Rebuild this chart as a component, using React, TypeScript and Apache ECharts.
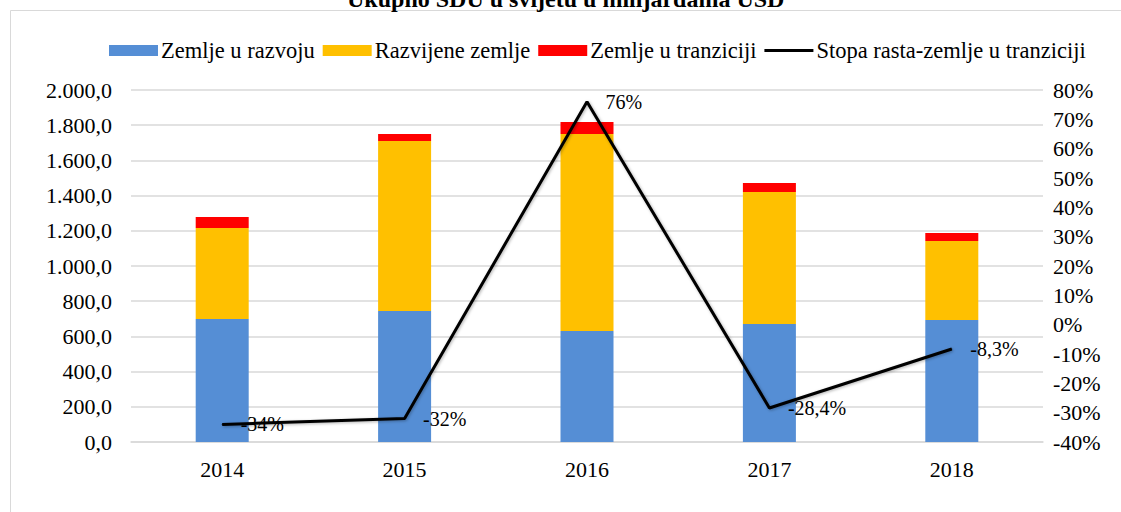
import React, { useEffect, useRef } from "react";
import * as echarts from "echarts";

const years = ["2014", "2015", "2016", "2017", "2018"];
const developing = [699, 744, 631, 670, 693];
const developed = [517, 966, 1119, 750, 449];
const transition = [62, 40, 68, 52, 46];
const growthTransition = [-34, -32, 76, -28.4, -8.3];

const FONT = "Liberation Serif";

function fmtLeft(v: number): string {
  const s = v.toFixed(1).replace(".", ",");
  const [intPart, dec] = s.split(",");
  return intPart.replace(/\B(?=(\d{3})+(?!\d))/g, ".") + "," + dec;
}

export default function App() {
  const ref = useRef<HTMLDivElement>(null);
  useEffect(() => {
    if (!ref.current) return;
    const chart = echarts.init(ref.current, undefined, { renderer: "svg" });
    chart.setOption({
      animation: false,
      backgroundColor: "#ffffff",
      textStyle: { fontFamily: FONT, color: "#000" },
      title: {
        text: "Ukupno SDU u svijetu u milijardama USD",
        left: 342,
        top: -18,
        textStyle: { fontFamily: FONT, fontSize: 24, fontWeight: "bold", color: "#000" },
      },
      graphic: [
        {
          type: "rect",
          z: -10,
          silent: true,
          shape: { x: 10.5, y: 10.5, width: 1200, height: 600 },
          style: { fill: "none", stroke: "#d9d9d9", lineWidth: 1 },
        },
      ],
      legend: {
        left: 104,
        top: 34,
        itemWidth: 49,
        itemHeight: 11,
        itemGap: 8,
        symbolKeepAspect: true,
        textStyle: { fontFamily: FONT, fontSize: 22.5, color: "#000", padding: [0, 0, 0, -2] },
        data: [
          { name: "Zemlje u razvoju", icon: "rect" },
          { name: "Razvijene zemlje", icon: "rect" },
          { name: "Zemlje u tranziciji", icon: "rect" },
          { name: "Stopa rasta-zemlje u tranziciji", icon: "path://M0,0 L49,0 L49,3 L0,3 Z", itemStyle: { color: "#000" } },
        ],
      },
      grid: { left: 131, right: 78, top: 90, bottom: 70, containLabel: false },
      xAxis: {
        type: "category",
        data: years,
        axisTick: { show: false },
        axisLine: { lineStyle: { color: "#d9d9d9", width: 1.5 } },
        axisLabel: { fontFamily: FONT, fontSize: 22, color: "#000", margin: 16 },
      },
      yAxis: [
        {
          type: "value",
          min: 0,
          max: 2000,
          interval: 200,
          axisLine: { show: false },
          axisTick: { show: false },
          splitLine: { lineStyle: { color: "#d9d9d9", width: 1.5 } },
          axisLabel: { fontFamily: FONT, fontSize: 22, color: "#000", margin: 19, formatter: (v: number) => fmtLeft(v) },
        },
        {
          type: "value",
          min: -40,
          max: 80,
          interval: 10,
          axisLine: { show: false },
          axisTick: { show: false },
          splitLine: { show: false },
          axisLabel: { fontFamily: FONT, fontSize: 22, color: "#000", margin: 10, formatter: (v: number) => v + "%" },
        },
      ],
      series: [
        {
          name: "Zemlje u razvoju",
          type: "bar",
          stack: "total",
          barWidth: 53,
          data: developing,
          itemStyle: { color: "#558ED5" },
        },
        {
          name: "Razvijene zemlje",
          type: "bar",
          stack: "total",
          barWidth: 53,
          data: developed,
          itemStyle: { color: "#FFC000" },
        },
        {
          name: "Zemlje u tranziciji",
          type: "bar",
          stack: "total",
          barWidth: 53,
          data: transition,
          itemStyle: { color: "#FF0000" },
        },
        {
          name: "Stopa rasta-zemlje u tranziciji",
          type: "line",
          yAxisIndex: 1,
          data: growthTransition,
          symbol: "circle",
          symbolSize: 1,
          showSymbol: true,
          z: 5,
          lineStyle: { color: "#000", width: 3, shadowColor: "rgba(0,0,0,0.3)", shadowBlur: 3, shadowOffsetX: 1, shadowOffsetY: 1 },
          itemStyle: { color: "#000" },
          label: {
            show: true,
            position: "right",
            distance: 18,
            fontFamily: FONT,
            fontSize: 20,
            color: "#000",
            formatter: (p: any) => String(p.value).replace(".", ",") + "%",
          },
        },
      ],
    });
    return () => chart.dispose();
  }, []);
  return <div ref={ref} style={{ width: 1121, height: 512, position: "absolute", left: 0, top: 0 }} />;
}
